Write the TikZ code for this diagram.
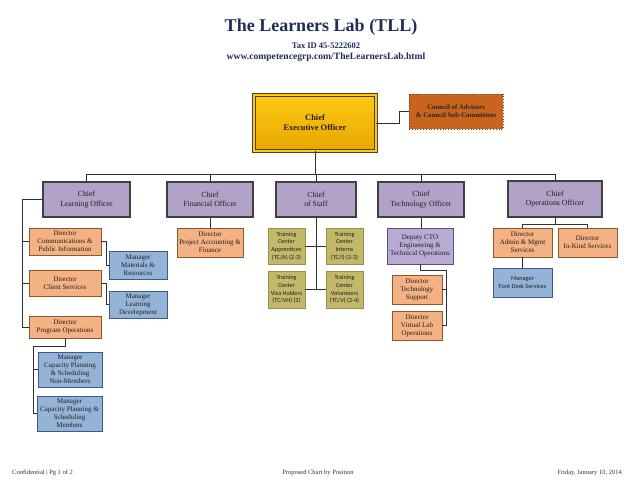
\documentclass[tikz,border=0pt]{standalone}
\usepackage{fontspec}
\setmainfont{Liberation Serif}
\newfontfamily\calib{Carlito}
\definecolor{navy}{HTML}{1F2D5A}
\definecolor{goldtop}{HTML}{FFC814}
\definecolor{goldbot}{HTML}{E6A800}
\definecolor{goldline}{HTML}{4A3F1A}
\definecolor{councilfill}{HTML}{C8641E}
\definecolor{lvlfill}{HTML}{B3A2C7}
\definecolor{lvlline}{HTML}{404040}
\definecolor{dirfill}{HTML}{F4B183}
\definecolor{dirline}{HTML}{8B5A2B}
\definecolor{mgrfill}{HTML}{95B3D7}
\definecolor{mgrline}{HTML}{385D8A}
\definecolor{tcfill}{HTML}{C2B86A}
\definecolor{tcline}{HTML}{9A9048}
\definecolor{depfill}{HTML}{B8AAD3}
\definecolor{depline}{HTML}{5F4F7F}
\definecolor{connc}{HTML}{2F2F2F}
\tikzset{
  boxbase/.style={rectangle, align=center, inner sep=1pt, text=black!88},
  lvltwo/.style={boxbase, fill=lvlfill, draw=lvlline, line width=1.5pt, font=\fontsize{7.8}{9.2}\selectfont},
  dirbox/.style={boxbase, fill=dirfill, draw=dirline, line width=0.6pt, font=\fontsize{7}{8}\selectfont},
  mgrbox/.style={boxbase, fill=mgrfill, draw=mgrline, line width=0.6pt, font=\fontsize{7}{8}\selectfont},
  tcbox/.style={boxbase, fill=tcfill, draw=tcline, line width=0.4pt, font=\calib\fontsize{6.2}{7.8}\selectfont},
  depbox/.style={boxbase, fill=depfill, draw=depline, line width=0.7pt, font=\fontsize{7}{8.2}\selectfont},
  conn/.style={draw=connc, line width=0.8pt},
  footer/.style={font=\fontsize{6.5}{8}\selectfont, text=black!80, inner sep=0pt},
}
\newcommand{\bx}[6]{\node[#1, minimum width=#4pt, minimum height=#5pt] (#2) at (#3) {#6};}
\begin{document}
\begin{tikzpicture}[x=1pt,y=-1pt]
\useasboundingbox (0,0) rectangle (638,493);
\fill[white] (0,0) rectangle (638,493);
% title
\node[font=\bfseries\fontsize{18}{21}\selectfont, text=navy] (title) at (321,27) {The Learners Lab (TLL)};
\node[font=\bfseries\fontsize{8.5}{10}\selectfont, text=navy] (tax) at (326,46) {Tax ID 45-5222602};
\node[font=\bfseries\fontsize{9.6}{11}\selectfont, text=navy] (url) at (326,57.5) {www.competencegrp.com/TheLearnersLab.html};
% CEO & council
\node[boxbase, top color=goldtop, bottom color=goldbot, draw=goldline, line width=0.9pt, double=goldtop, double distance=1.6pt, minimum width=122pt, minimum height=56pt, font=\bfseries\fontsize{8.4}{10}\selectfont] (ceo) at (315,123) {Chief\\Executive Officer};
\node[boxbase, fill=councilfill, draw=black!70, dotted, line width=0.8pt, minimum width=94pt, minimum height=35pt, font=\bfseries\fontsize{6.8}{8}\selectfont, text=black!85] (council) at (456,111.5) {Council of Advisors\\\& Council Sub-Committees};
% level 2
\bx{lvltwo}{clo}{86.5,199.5}{87}{35}{Chief\\Learning Officer}
\bx{lvltwo}{cfo}{210,199.5}{86}{35}{Chief\\Financial Officer}
\bx{lvltwo}{cos}{316,199.5}{80}{35}{Chief\\of Staff}
\bx{lvltwo}{cto}{421,199.5}{86}{35}{Chief\\Technology Officer}
\bx{lvltwo}{coo}{555,199}{94}{36}{Chief\\Operations Officer}
% learning
\bx{dirbox}{dircomm}{65,241.5}{72}{27}{Director\\Communications \&\\Public Information}
\bx{mgrbox}{mgrmat}{138,265}{58}{28}{Manager\\Materials \&\\Resources}
\bx{dirbox}{dirclient}{65,283}{72}{26}{Director\\Client Services}
\bx{mgrbox}{mgrlearn}{138,304.5}{58}{27}{Manager\\Learning\\Development}
\bx{dirbox}{dirprog}{65,327}{72}{22}{Director\\Program Operations}
\bx{mgrbox}{mgrcapa}{70,369.5}{64}{35}{Manager\\Capacity Planning\\\& Scheduling\\Non-Members}
\bx{mgrbox}{mgrcapb}{69.5,413.5}{65}{35}{Manager\\Capacity Planning \&\\Scheduling\\Members}
% finance
\bx{dirbox}{dirpa}{210,242.5}{66}{29}{Director\\Project Accounting \&\\Finance}
% staff
\bx{tcbox}{tca}{286.5,246}{37}{36}{Training\\Center\\Apprentices\\(TC/A) (2-3)}
\bx{tcbox}{tci}{344.5,246}{37}{36}{Training\\Center\\Interns\\(TC/I) (2-3)}
\bx{tcbox}{tcvh}{286.5,289.5}{37}{37}{Training\\Center\\Visa Holders\\(TC/VH) (2)}
\bx{tcbox}{tcv}{344.5,289.5}{37}{37}{Training\\Center\\Volunteers\\(TC/V) (2-4)}
% technology
\bx{depbox}{depcto}{420,246}{66}{36}{Deputy CTO\\Engineering \&\\Technical Operations}
\bx{dirbox}{dirts}{417,289.5}{50}{29}{Director\\Technology\\Support}
\bx{dirbox}{dirvl}{417,325.5}{50}{29}{Director\\Virtual Lab\\Operations}
% operations
\bx{dirbox}{diradm}{522.5,242.5}{59}{29}{Director\\Admin \& Mgmt\\Services}
\bx{dirbox}{dirik}{587.5,242.5}{59}{29}{Director\\In-Kind Services}
\node[boxbase, fill=mgrfill, draw=mgrline, line width=0.6pt, minimum width=59pt, minimum height=29pt, font=\calib\fontsize{6.3}{7.8}\selectfont] (mgrfd) at (522.5,282.5) {Manager\\Font Desk Services};
% coordinates
\coordinate (bus) at (0,174);
\coordinate (lspine) at (22,0);
\coordinate (cspine) at (33,346);
\coordinate (tspine) at (446,270);
\coordinate (opsbus) at (0,224);
% connectors
\draw[conn] (ceo.east) -- ++(23,0) |- (council.west);
\draw[conn] (ceo.south) -- (ceo.south |- bus);
\draw[conn] (clo.north) -- (clo.north |- bus) -- (coo.north |- bus) -- (coo.north);
\draw[conn] (cfo.north) -- (cfo.north |- bus);
\draw[conn] (cos.north) -- (cos.north |- bus);
\draw[conn] (cto.north) -- (cto.north |- bus);
\draw[conn] (clo.west) -| (lspine |- dirprog.west) -- (dirprog.west);
\draw[conn] (lspine |- dircomm.west) -- (dircomm.west);
\draw[conn] (lspine |- dirclient.west) -- (dirclient.west);
\draw[conn] (dircomm.east) -- ++(5,0) |- (mgrmat.west);
\draw[conn] (dirclient.east) -- ++(5,0) |- (mgrlearn.west);
\draw[conn] (dirprog.south) |- (cspine) |- (mgrcapb.west);
\draw[conn] (cspine |- mgrcapa.west) -- (mgrcapa.west);
\draw[conn] (cfo.south) -- (dirpa.north);
\draw[conn] (cos.south) -- (cos.south |- tcvh.east);
\draw[conn] (tca.east) -- (tci.west);
\draw[conn] (tcvh.east) -- (tcv.west);
\draw[conn] (cto.south) -- (cto.south |- depcto.north);
\draw[conn] (depcto.south) |- (tspine) |- (dirvl.east);
\draw[conn] (tspine |- dirts.east) -- (dirts.east);
\draw[conn] (coo.south) -- (coo.south |- opsbus);
\draw[conn] (diradm.north) -- (diradm.north |- opsbus) -- (dirik.north |- opsbus) -- (dirik.north);
\draw[conn] (diradm.south) -- (mgrfd.north);
% footer
\node[footer, anchor=west] (fl) at (12,473) {Confidential | Pg 1 of 2};
\node[footer] (fc) at (318,473) {Proposed Chart by Position};
\node[footer, anchor=east] (fr) at (622,473) {Friday, January 10, 2014};
\end{tikzpicture}
\end{document}
